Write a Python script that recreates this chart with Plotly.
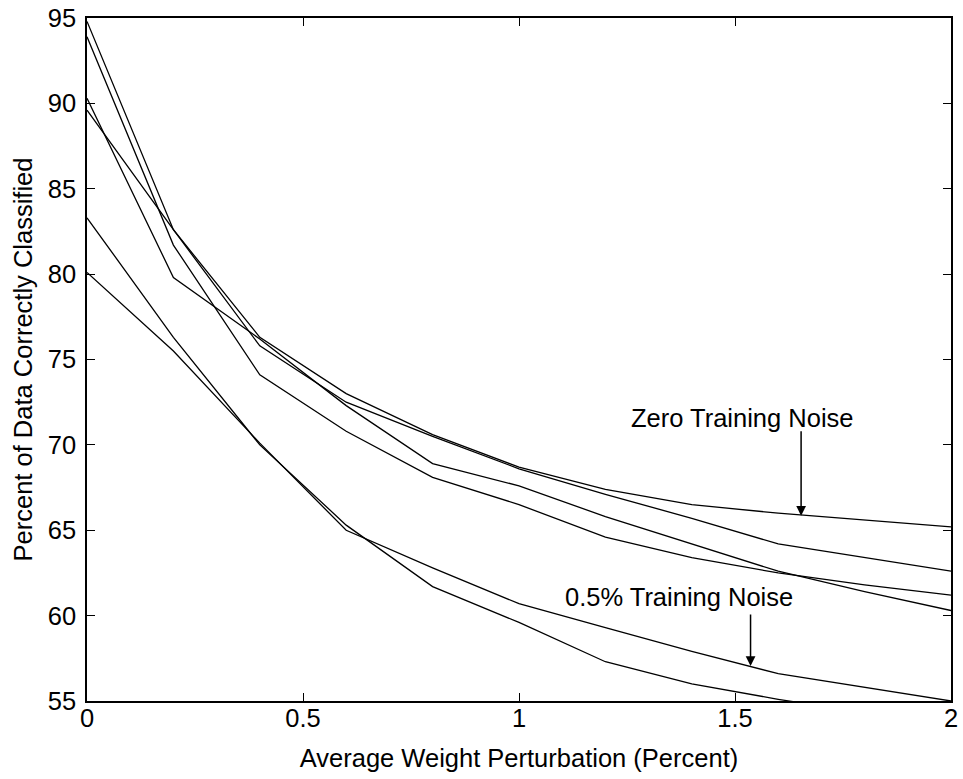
import plotly.graph_objects as go

# Average weight perturbation (percent)
x_pert = [0, 0.2, 0.4, 0.6, 0.8, 1.0, 1.2, 1.4, 1.6, 1.8, 2.0]

# Zero training noise curves (percent correctly classified)
zero_a = [94.8, 82.6, 76.3, 73.0, 70.6, 68.7, 67.4, 66.5, 66.0, 65.6, 65.2]
zero_b = [89.6, 82.6, 75.8, 72.5, 70.5, 68.6, 67.1, 65.7, 64.2, 63.4, 62.6]
zero_c = [90.3, 79.8, 76.2, 72.3, 68.9, 67.6, 65.8, 64.2, 62.6, 61.4, 60.3]
zero_d = [93.9, 81.7, 74.1, 70.8, 68.1, 66.5, 64.6, 63.4, 62.5, 61.8, 61.2]

# 0.5% training noise curves
noise_a = [83.3, 76.3, 70.0, 65.3, 61.7, 59.6, 57.3, 56.0, 55.1, 54.3, 53.6]
noise_b = [80.1, 75.5, 70.1, 65.0, 62.8, 60.7, 59.3, 57.9, 56.6, 55.8, 55.0]

x_ticks = [0, 0.5, 1, 1.5, 2]
x_tick_text = ["0", "0.5", "1", "1.5", "2"]
y_ticks = [55, 60, 65, 70, 75, 80, 85, 90, 95]

FONT = "Liberation Sans, Arial, sans-serif"
FS = 25.5

fig = go.Figure()
for ys in [zero_a, zero_b, zero_c, zero_d, noise_a, noise_b]:
    fig.add_trace(go.Scatter(x=x_pert, y=ys, mode="lines",
                             line=dict(color="black", width=1.3),
                             showlegend=False, hoverinfo="skip"))

axis_common = dict(showline=True, linecolor="black", linewidth=1.5, mirror="ticks",
                   ticks="inside", ticklen=8, tickwidth=1, tickcolor="black",
                   showgrid=False, zeroline=False, automargin=False,
                   ticklabeloverflow="allow",
                   tickfont=dict(family=FONT, size=FS, color="black"))

fig.update_xaxes(range=[0, 2], tickvals=x_ticks, ticktext=x_tick_text,
                 ticklabelstandoff=-6,
                 title=dict(text="Average Weight Perturbation (Percent)",
                            font=dict(family=FONT, size=FS, color="black"), standoff=18),
                 **axis_common)
fig.update_yaxes(range=[55, 95], tickvals=y_ticks, ticklabelstandoff=4,
                 title=dict(text="Percent of Data Correctly Classified",
                            font=dict(family=FONT, size=FS, color="black"), standoff=8),
                 **axis_common)

# Annotation labels and arrows
fig.add_annotation(x=1.517, y=71.6, text="Zero Training Noise", showarrow=False,
                   font=dict(family=FONT, size=FS, color="black"), yanchor="middle")
fig.add_annotation(x=1.653, y=65.85, text="", showarrow=True, ax=0, ay=-86,
                   arrowhead=2, arrowsize=1.3, arrowwidth=1.5, arrowcolor="black")
fig.add_annotation(x=1.37, y=61.1, text="0.5% Training Noise", showarrow=False,
                   font=dict(family=FONT, size=FS, color="black"), yanchor="middle")
fig.add_annotation(x=1.536, y=57.05, text="", showarrow=True, ax=0, ay=-53,
                   arrowhead=2, arrowsize=1.3, arrowwidth=1.5, arrowcolor="black")

fig.update_layout(width=963, height=779, paper_bgcolor="white", plot_bgcolor="white",
                  margin=dict(l=87, r=12, t=18, b=78),
                  font=dict(family=FONT, color="black"))

# remove the browser's default 8px page margin so the figure fills the window
fig.write_html("out.html", config={"displayModeBar": False},
               post_script="document.body.style.margin='0';document.body.style.overflow='hidden';")
